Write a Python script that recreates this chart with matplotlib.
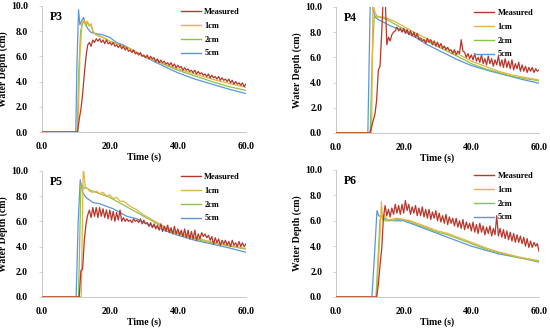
import numpy as np
import matplotlib.pyplot as plt
from matplotlib.ticker import FormatStrFormatter

plt.rcParams['font.family'] = ['Liberation Serif', 'DejaVu Serif']
plt.rcParams['font.weight'] = 'bold'
plt.rcParams['axes.labelweight'] = 'bold'

# gauges shown in each panel
gauges = ['P3', 'P4', 'P5', 'P6']
series_names = ['Measured', '1cm', '2cm', '5cm']

# measured depth, one value every 0.5 s from t = 10 s (zero before)
meas_t0 = 10.0
meas_dt = 0.5
measured = {
    'P3': [0.0, 0.0, 1.0, 1.8, 3.0, 4.6, 6.0, 6.9, 7.1, 6.8,
           7.3, 7.1, 7.4, 7.2, 7.4, 7.1, 7.3, 7.0, 7.3, 7.0,
           7.1, 6.9, 7.1, 6.8, 6.9, 6.7, 6.9, 6.6, 6.8, 6.5,
           6.7, 6.4, 6.5, 6.3, 6.5, 6.2, 6.3, 6.1, 6.3, 6.0,
           6.1, 5.9, 6.1, 5.8, 6.0, 5.8, 5.9, 5.6, 5.8, 5.5,
           5.7, 5.5, 5.6, 5.4, 5.5, 5.3, 5.5, 5.2, 5.4, 5.1,
           5.3, 5.1, 5.2, 4.9, 5.1, 4.9, 5.0, 4.8, 4.9, 4.7,
           4.9, 4.6, 4.8, 4.6, 4.7, 4.5, 4.6, 4.4, 4.6, 4.3,
           4.5, 4.3, 4.4, 4.2, 4.4, 4.1, 4.3, 4.1, 4.2, 4.0,
           4.2, 3.9, 4.1, 3.8, 4.0, 3.8, 3.9, 3.7, 3.9, 3.6,
           3.8],
    'P4': [0.0, 0.5, 1.0, 1.5, 2.6, 5.0, 5.3, 8.0, 11.0, 11.0,
           7.0, 7.6, 7.3, 7.8, 8.0, 8.1, 8.4, 8.1, 8.3, 8.0,
           8.3, 7.9, 8.2, 7.8, 8.1, 7.7, 8.0, 7.6, 7.9, 7.4,
           7.5, 7.3, 7.4, 7.1, 7.5, 7.2, 7.4, 7.0, 7.3, 6.9,
           7.2, 6.8, 7.1, 6.7, 6.9, 6.6, 6.8, 6.5, 6.6, 6.3,
           6.6, 6.2, 6.5, 6.3, 7.4, 6.5, 6.4, 6.0, 6.3, 5.9,
           6.2, 5.8, 6.3, 5.7, 6.0, 5.6, 6.2, 5.5, 5.9, 5.4,
           6.1, 5.5, 5.9, 5.3, 5.8, 5.4, 6.1, 5.3, 5.8, 5.2,
           5.9, 5.2, 5.7, 5.1, 5.8, 5.0, 5.5, 5.1, 5.6, 4.9,
           5.4, 4.9, 5.3, 4.8, 5.2, 4.9, 5.2, 4.8, 5.1, 4.9,
           5.0],
    'P5': [0.0, 0.0, 0.0, 2.1, 2.2, 4.5, 5.8, 6.5, 6.9, 6.3,
           7.1, 6.4, 7.1, 6.3, 7.1, 6.4, 7.0, 6.3, 6.9, 6.2,
           6.9, 6.1, 6.8, 6.0, 6.7, 6.1, 6.9, 6.0, 6.3, 6.0,
           6.2, 6.0, 6.1, 5.9, 6.2, 6.0, 6.1, 5.9, 6.2, 5.8,
           6.1, 5.8, 5.9, 5.6, 5.9, 5.5, 5.8, 5.4, 5.7, 5.3,
           5.8, 5.2, 5.6, 5.2, 5.7, 5.1, 5.5, 5.0, 5.6, 5.0,
           5.4, 4.9, 5.3, 4.8, 5.4, 4.7, 5.3, 4.6, 5.2, 4.6,
           5.3, 4.5, 5.0, 4.6, 5.1, 4.8, 5.0, 4.7, 4.9, 4.5,
           4.8, 4.2, 4.7, 4.3, 4.6, 4.1, 4.5, 4.2, 4.5, 4.1,
           4.4, 4.0, 4.5, 4.1, 4.3, 4.0, 4.4, 4.0, 4.3, 4.0,
           4.2],
    'P6': [0.0, 0.0, 0.0, 0.0, 0.0, 1.0, 2.5, 3.8, 6.2, 7.2,
           6.4, 6.9, 6.3, 7.0, 6.5, 7.3, 6.6, 7.2, 6.5, 7.3,
           6.6, 7.6, 6.8, 7.3, 6.5, 7.1, 6.6, 7.2, 6.4, 7.0,
           6.4, 7.1, 6.3, 6.9, 6.2, 6.9, 6.1, 6.7, 6.2, 6.8,
           6.0, 6.6, 5.9, 6.4, 5.8, 6.5, 5.7, 6.3, 5.8, 6.2,
           5.6, 6.2, 5.5, 6.0, 5.4, 6.1, 5.3, 5.9, 5.4, 5.8,
           5.2, 5.9, 5.1, 5.7, 5.0, 5.8, 5.1, 5.6, 4.9, 5.5,
           5.0, 5.6, 4.8, 5.4, 4.9, 6.4, 4.8, 5.4, 4.7, 5.3,
           4.6, 5.2, 4.5, 5.1, 4.4, 5.0, 4.3, 4.9, 4.3, 4.8,
           4.2, 4.7, 4.0, 4.6, 3.9, 4.4, 3.9, 4.3, 4.0, 4.2,
           3.6],
}

# simulated depth (time, value) for each surface roughness
sim_1cm = {
    'P3': ([0, 10.6, 11.2, 11.8, 12.3, 12.8, 13.3, 14.0, 14.5, 15, 16, 18, 20, 22, 24, 26, 28, 30, 33, 36, 40, 45, 50, 55, 60],
           [0, 0, 6.0, 8.6, 8.9, 8.5, 8.8, 8.4, 8.6, 8.0, 7.7, 7.5, 7.2, 7.0, 6.8, 6.6, 6.3, 6.0, 5.7, 5.4, 5.0, 4.6, 4.2, 3.85, 3.55]),
    'P4': ([0, 10.5, 10.9, 11.5, 12, 13, 14, 15, 17, 19, 21, 23, 26, 29, 32, 35, 38, 40, 44, 48, 52, 56, 60],
           [0, 0, 10.3, 9.6, 9.3, 9.2, 9.2, 9.1, 8.9, 8.6, 8.3, 8.0, 7.6, 7.2, 6.8, 6.4, 6.0, 5.7, 5.3, 4.9, 4.6, 4.4, 4.2]),
    'P5': ([0, 11.6, 12.2, 12.8, 13.5, 14, 15, 16, 17, 18, 19, 20, 21, 22, 23, 24, 26, 28, 30, 32, 34, 36, 38, 40, 44, 48, 52, 56, 60],
           [0, 0, 10.3, 8.7, 8.6, 8.4, 8.3, 8.4, 8.2, 8.3, 8.0, 8.1, 7.8, 7.9, 7.6, 7.6, 7.2, 6.9, 6.5, 6.2, 5.9, 5.6, 5.3, 5.1, 4.8, 4.5, 4.25, 4.05, 3.85]),
    'P6': ([0, 12.0, 12.5, 13.0, 13.4, 13.8, 14.2, 15, 16, 18, 20, 22, 24, 27, 30, 33, 36, 39, 42, 45, 48, 51, 54, 57, 60],
           [0, 0, 2.7, 5.0, 7.5, 6.0, 6.5, 6.1, 6.1, 6.2, 6.1, 6.0, 5.8, 5.5, 5.2, 5.0, 4.7, 4.4, 4.1, 3.8, 3.55, 3.35, 3.15, 3.0, 2.85]),
}
sim_2cm = {
    'P3': ([0, 10.4, 10.9, 11.4, 12.0, 12.5, 13.0, 13.5, 14.0, 14.5, 15, 16, 18, 20, 22, 24, 26, 28, 30, 33, 36, 40, 45, 50, 55, 60],
           [0, 0, 5.0, 8.0, 8.6, 8.8, 8.4, 8.7, 8.4, 8.5, 8.0, 7.7, 7.5, 7.2, 7.0, 6.8, 6.6, 6.3, 6.0, 5.7, 5.35, 4.9, 4.45, 4.0, 3.6, 3.3]),
    'P4': ([0, 10.1, 10.7, 11.3, 12, 13, 14, 15, 17, 19, 21, 23, 26, 29, 32, 35, 38, 40, 44, 48, 52, 56, 60],
           [0, 0, 6.0, 9.3, 9.2, 9.2, 9.1, 9.0, 8.7, 8.4, 8.1, 7.8, 7.4, 7.0, 6.6, 6.2, 5.8, 5.5, 5.1, 4.8, 4.5, 4.3, 4.15]),
    'P5': ([0, 10.8, 11.5, 12.5, 13, 14, 16, 18, 20, 22, 24, 26, 28, 30, 32, 34, 36, 38, 40, 44, 48, 52, 56, 60],
           [0, 0, 9.0, 8.6, 8.7, 8.5, 8.3, 8.1, 7.9, 7.6, 7.3, 7.0, 6.7, 6.4, 6.1, 5.8, 5.5, 5.2, 5.0, 4.7, 4.4, 4.2, 4.0, 3.8]),
    'P6': ([0, 11.8, 12.4, 13.0, 13.5, 14.5, 16, 18, 20, 22, 24, 27, 30, 33, 36, 39, 42, 45, 48, 51, 54, 57, 60],
           [0, 0, 3.0, 6.1, 6.4, 6.0, 6.0, 6.1, 6.1, 5.9, 5.7, 5.4, 5.1, 4.9, 4.6, 4.3, 4.0, 3.7, 3.5, 3.3, 3.1, 2.95, 2.8]),
}
sim_5cm = {
    'P3': ([0, 10.0, 10.3, 10.8, 11.2, 11.7, 12.3, 12.8, 13.5, 14.5, 16, 18, 20, 22, 24, 26, 28, 30, 33, 36, 40, 45, 50, 55, 60],
           [0, 0, 5.0, 9.7, 8.5, 8.8, 9.1, 8.6, 8.2, 7.9, 7.8, 7.7, 7.5, 7.1, 6.9, 6.6, 6.3, 6.0, 5.6, 5.2, 4.7, 4.2, 3.8, 3.4, 3.05]),
    'P4': ([0, 9.4, 10.1, 10.8, 11.5, 12.5, 14, 16, 18, 20, 22, 24, 27, 30, 33, 36, 40, 45, 50, 55, 60],
           [0, 0, 10.2, 10.0, 9.2, 9.0, 8.8, 8.5, 8.3, 8.1, 7.8, 7.5, 7.0, 6.6, 6.2, 5.8, 5.35, 4.95, 4.6, 4.25, 3.95]),
    'P5': ([0, 10.1, 10.7, 11.3, 12, 13, 14, 15, 17, 19, 21, 23, 25, 28, 30, 33, 36, 40, 45, 50, 55, 60],
           [0, 0, 6.0, 9.3, 8.3, 7.9, 7.7, 7.5, 7.4, 7.2, 7.0, 6.7, 6.4, 6.2, 5.9, 5.6, 5.3, 4.9, 4.5, 4.2, 3.9, 3.55]),
    'P6': ([0, 10.6, 11.3, 12.1, 12.6, 13.5, 15, 17, 20, 22, 25, 28, 31, 34, 37, 40, 44, 48, 52, 56, 60],
           [0, 0, 3.0, 6.8, 6.4, 6.3, 6.1, 6.0, 6.0, 5.8, 5.5, 5.2, 4.9, 4.6, 4.3, 4.0, 3.7, 3.4, 3.2, 3.0, 2.75]),
}

colors = {'Measured': '#B8362A', '1cm': '#E2B345', '2cm': '#8CC24A', '5cm': '#5C96D8'}

fig = plt.figure(figsize=(5.5, 3.3), dpi=100)
positions = {
    'P3': [0.076, 0.600, 0.371, 0.382],
    'P4': [0.611, 0.597, 0.369, 0.382],
    'P5': [0.076, 0.100, 0.371, 0.382],
    'P6': [0.611, 0.100, 0.369, 0.385],
}

for g in gauges:
    ax = fig.add_axes(positions[g])
    m = np.array(measured[g])
    tm = meas_t0 + meas_dt * np.arange(len(m))
    tm = np.concatenate([[0.0], tm])
    m = np.concatenate([[0.0], m])

    ax.plot(*sim_5cm[g], color=colors['5cm'], lw=0.9, zorder=2)
    ax.plot(*sim_2cm[g], color=colors['2cm'], lw=0.9, zorder=3)
    ax.plot(*sim_1cm[g], color=colors['1cm'], lw=0.9, zorder=4)
    ax.plot(tm, m, color=colors['Measured'], lw=0.9, zorder=5)

    # legend handles in the original order
    handles = [plt.Line2D([], [], color=colors[n], lw=1.0) for n in series_names]
    leg = ax.legend(handles, series_names, loc='upper right', frameon=False,
                    prop={'size': 6, 'weight': 'bold'}, handlelength=2.4, handletextpad=0.4,
                    labelspacing=0.7, borderaxespad=0.3, bbox_to_anchor=(1.0, 1.03))

    ax.set_xlim(0, 60)
    ax.set_ylim(0, 10)
    ax.set_xticks([0, 20, 40, 60])
    ax.set_yticks([0, 2, 4, 6, 8, 10])
    ax.xaxis.set_major_formatter(FormatStrFormatter('%.1f'))
    ax.yaxis.set_major_formatter(FormatStrFormatter('%.1f'))
    ax.tick_params(labelsize=7, length=2, width=0.5, color='#BFBFBF')
    ax.tick_params(axis='x', pad=7, length=0)
    ax.tick_params(axis='y', pad=8)
    for lab in ax.get_xticklabels() + ax.get_yticklabels():
        lab.set_fontweight('bold')
    for s in ['top', 'right']:
        ax.spines[s].set_visible(False)
    for s in ['left', 'bottom']:
        ax.spines[s].set_color('#BFBFBF')
        ax.spines[s].set_linewidth(0.6)

    ax.set_xlabel('Time (s)', fontsize=7, fontweight='bold', labelpad=1)
    ax.set_ylabel('Water Depth (cm)', fontsize=7, fontweight='bold', labelpad=2)
    ax.text(0.04, 0.91, g, transform=ax.transAxes, fontsize=8.5, fontweight='bold',
            va='center', ha='left')

fig.savefig('out.png', dpi=100)
